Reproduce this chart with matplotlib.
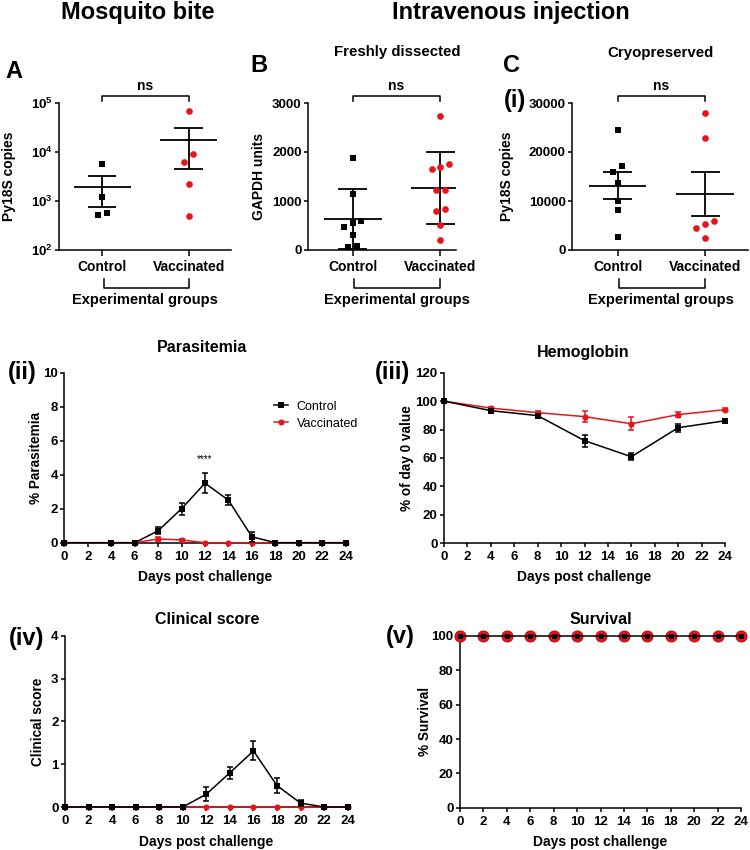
"""Mosquito bite vs intravenous injection: scatter panels and time-course panels."""

import matplotlib
matplotlib.use("Agg")
import matplotlib.pyplot as plt
import numpy as np
from matplotlib.ticker import NullLocator

# ---- data ----
groups = ["Control", "Vaccinated"]

# A: Py18S copies after mosquito bite (log scale)
a_control = [5560, 1195, 520, 571]
a_vaccinated = [69700, 9180, 6310, 2275, 489]

# B: freshly dissected, GAPDH units
b_control = [1884, 1137, 555, 479, 582, 315, 68, 75]
b_vaccinated = [2726, 1760, 1651, 1685, 1233, 1233, 801, 836, 507, 205]

# C (i): cryopreserved, Py18S copies
c_control = [24520, 17120, 15960, 13630, 10000, 8220, 2670]
c_vaccinated = [27950, 22810, 5890, 5270, 4450, 2400]

# (ii) parasitemia
para_days = [0, 4, 6, 8, 10, 12, 14, 16, 18, 20, 22, 24]
para_control = [0, 0, 0, 0.7, 2.0, 3.5, 2.5, 0.35, 0, 0, 0, 0]
para_control_err = [0, 0, 0, 0.2, 0.35, 0.6, 0.3, 0.3, 0, 0, 0, 0]
para_vaccinated = [0, 0, 0, 0.22, 0.16, 0, 0, 0, 0, 0, 0, 0]
para_vaccinated_err = [0, 0, 0, 0.1, 0.05, 0, 0, 0, 0, 0, 0, 0]

# (iii) hemoglobin, % of day 0
hb_days = [0, 4, 8, 12, 16, 20, 24]
hb_control = [100, 93.3, 89.8, 72.2, 60.9, 81.3, 86.2]
hb_control_err = [0, 1.2, 1.5, 4.3, 2.3, 2.7, 1.0]
hb_vaccinated = [100, 95.1, 91.9, 89.1, 84.1, 90.5, 94.0]
hb_vaccinated_err = [0, 1.0, 1.5, 4.0, 4.6, 2.0, 1.0]

# (iv) clinical score
clin_days = [0, 2, 4, 6, 8, 10, 12, 14, 16, 18, 20, 22, 24]
clin_control = [0, 0, 0, 0, 0, 0, 0.3, 0.8, 1.31, 0.5, 0.09, 0, 0]
clin_control_err = [0, 0, 0, 0, 0, 0, 0.17, 0.14, 0.22, 0.17, 0.07, 0, 0]
clin_vaccinated = [0, 0, 0, 0, 0, 0, 0, 0, 0, 0, 0, 0, 0]

# (v) survival
surv_days = [0, 2, 4, 6, 8, 10, 12, 14, 16, 18, 20, 22, 24]
surv_control = [100, 100, 100, 100, 100, 100, 100, 100, 100, 100, 100, 100, 100]
surv_vaccinated = [100, 100, 100, 100, 100, 100, 100, 100, 100, 100, 100, 100, 100]

RED = "#e8141c"
W, H = 750, 850

plt.rcParams.update({
    "font.family": ["Liberation Sans", "DejaVu Sans"],
    "font.weight": "bold",
    "axes.labelweight": "bold",
    "axes.linewidth": 1.1,
    "mathtext.fontset": "custom",
    "mathtext.rm": "Liberation Sans:bold",
    "mathtext.bf": "Liberation Sans:bold",
    "mathtext.it": "Liberation Sans:bold",
    "xtick.major.width": 1.1,
    "ytick.major.width": 1.1,
    "xtick.major.size": 3,
    "ytick.major.size": 3,
    "xtick.major.pad": 2.5,
    "ytick.major.pad": 1.5,
    "xtick.labelsize": 9.5,
    "ytick.labelsize": 9.5,
})

fig = plt.figure(figsize=(W / 100, H / 100), dpi=100)


def box(left, top, right, bottom):
    return [left / W, 1 - bottom / H, (right - left) / W, (bottom - top) / H]


def label(x, y, s, size, **kw):
    fig.text(x / W, 1 - y / H, s, fontsize=size, ha="center", va="center", **kw)


def clean(ax):
    ax.spines["top"].set_visible(False)
    ax.spines["right"].set_visible(False)


def swarm(ax, center, values, gap_px=8.0, step_px=8.7):
    """Spread points that overlap vertically, centred on the category."""
    vals = np.asarray(values, dtype=float)
    ypix = ax.transData.transform(np.column_stack([np.full(len(vals), center), vals]))[:, 1]
    unit = ax.transData.transform((1, 0))[0] - ax.transData.transform((0, 0))[0]
    order = np.argsort(ypix)
    offsets = np.zeros(len(vals))
    cluster = [order[0]]
    for prev, cur in zip(order[:-1], order[1:]):
        if ypix[cur] - ypix[prev] < gap_px:
            cluster.append(cur)
        else:
            for j, k in enumerate(cluster):
                offsets[k] = (j - (len(cluster) - 1) / 2) * step_px / unit
            cluster = [cur]
    for j, k in enumerate(cluster):
        offsets[k] = (j - (len(cluster) - 1) / 2) * step_px / unit
    return center + offsets


def scatter_panel(rect_px, xlim, ylim, control, vaccinated, spread, ylabel, ylabel_x,
                  log=False, yticks=None, yticklabels=None):
    left, top, right, bottom = rect_px
    ax = fig.add_axes(box(*rect_px))
    clean(ax)
    if log:
        ax.set_yscale("log")
    ax.set_xlim(*xlim)
    ax.set_ylim(*ylim)
    ax.set_yticks(yticks, yticklabels)
    ax.yaxis.set_minor_locator(NullLocator())
    ax.set_xticks([0, 1], groups, fontsize=10)
    ax.tick_params(axis="x", length=4, pad=3)

    for i, (vals, marker, color, ms) in enumerate(
            [(control, "s", "black", 4.6), (vaccinated, "o", RED, 4.8)]):
        vals = np.asarray(vals, dtype=float)
        mean = vals.mean()
        dev = vals.std(ddof=1)
        if spread == "sem":
            dev = dev / np.sqrt(len(vals))
        ax.vlines(i, mean - dev, mean + dev, color="black", lw=1.3, zorder=2)
        ax.hlines([mean - dev, mean + dev], i - 0.165, i + 0.165, color="black", lw=1.3, zorder=2)
        ax.hlines(mean, i - 0.33, i + 0.33, color="black", lw=1.3, zorder=2)
        ax.plot(swarm(ax, i, vals), vals, marker, color=color, ms=ms, mew=0,
                ls="none", zorder=3, clip_on=False)

    def fy(ypx):
        return (bottom - ypx) / (bottom - top)

    tr = ax.get_xaxis_transform()
    ax.plot([0, 0, 1, 1], [fy(100.5), fy(96), fy(96), fy(100.5)], transform=tr,
            color="black", lw=1.1, clip_on=False)
    ax.text(0.5, fy(86), "ns", transform=tr, ha="center", va="center", fontsize=10)
    ax.plot([0.02, 0.02, 1, 1], [fy(279), fy(287.5), fy(287.5), fy(279)], transform=tr,
            color="black", lw=1.1, clip_on=False)
    ax.text(0.5, fy(300), "Experimental groups", transform=tr, ha="center", va="center",
            fontsize=10.5)
    label(ylabel_x, (top + bottom) / 2, ylabel, 10, rotation=90)
    return ax


def time_panel(rect_px, ylim, yticks, ylabel, ylabel_x, title, title_xy, tag, tag_xy, xlabel_y):
    left, top, right, bottom = rect_px
    ax = fig.add_axes(box(*rect_px))
    clean(ax)
    ax.set_xlim(0, 24)
    ax.set_ylim(*ylim)
    ax.set_xticks(range(0, 25, 2))
    ax.set_yticks(yticks)
    ax.tick_params(length=3.2)
    label((left + right) / 2, xlabel_y, "Days post challenge", 10)
    label(ylabel_x, (top + bottom) / 2, ylabel, 9.8, rotation=90)
    label(title_xy[0], title_xy[1], title, 11.5)
    label(tag_xy[0], tag_xy[1], tag, 17)
    return ax


def series(ax, days, vals, errs, marker, color, ms, z):
    days = np.asarray(days, dtype=float)
    vals = np.asarray(vals, dtype=float)
    (line,) = ax.plot(days, vals, marker=marker, color=color, ms=ms, mew=0, lw=1.1,
                      zorder=z, clip_on=False)
    if errs is not None:
        errs = np.asarray(errs, dtype=float)
        m = errs > 0
        eb = ax.errorbar(days[m], vals[m], yerr=errs[m], fmt="none", ecolor=color,
                         elinewidth=1.1, capsize=2.3, capthick=1.1, zorder=z)
        for art in eb.get_children():
            art.set_clip_on(False)
    return line


# ---- headers ----
label(138, 12, "Mosquito bite", 17)
label(511, 12, "Intravenous injection", 17)
label(397, 52, "Freshly dissected", 10.8)
label(660, 53, "Cryopreserved", 10.8)
label(13.5, 72, "A", 17)
label(259, 65, "B", 17)
label(512, 66, "C", 17)
label(515, 101, "(i)", 17)

# ---- top row ----
scatter_panel((59, 103, 231, 250), (-0.5, 1.49), (1e2, 1e5), a_control, a_vaccinated,
              "sem", "Py18S copies", 9, log=True,
              yticks=[1e2, 1e3, 1e4, 1e5],
              yticklabels=[r"$10^{2}$", r"$10^{3}$", r"$10^{4}$", r"$10^{5}$"])
scatter_panel((308, 103, 456, 250), (-0.51, 1.18), (0, 3000), b_control, b_vaccinated,
              "sd", "GAPDH units", 259, yticks=[0, 1000, 2000, 3000],
              yticklabels=["0", "1000", "2000", "3000"])
scatter_panel((572, 103, 748, 250), (-0.52, 1.49), (0, 30000), c_control, c_vaccinated,
              "sem", "Py18S copies", 507, yticks=[0, 10000, 20000, 30000],
              yticklabels=["0", "10000", "20000", "30000"])

# ---- (ii) parasitemia ----
ax2 = time_panel((64.3, 372.7, 345.7, 542.7), (0, 10), [0, 2, 4, 6, 8, 10], "% Parasitemia",
                 36, "Parasitemia", (202, 348), "(ii)", (22, 373), 577)
vacc_line = series(ax2, para_days, para_vaccinated, para_vaccinated_err, "o", RED, 4.4, 3)
ctrl_line = series(ax2, para_days, para_control, para_control_err, "s", "black", 4.2, 4)
ax2.text(12, 4.9, "****", ha="center", va="center", fontsize=7, fontweight="normal")
ax2.legend(handles=[ctrl_line, vacc_line], labels=["Control", "Vaccinated"],
           loc="center left", frameon=False,
           bbox_to_anchor=(268 / W, 1 - 415 / H), bbox_transform=fig.transFigure,
           borderpad=0, handlelength=1.1, handletextpad=0.7, labelspacing=0.4,
           prop={"weight": "normal", "size": 9})

# ---- (iii) hemoglobin ----
ax3 = time_panel((444, 372.7, 725, 543.3), (0, 120), [0, 20, 40, 60, 80, 100, 120],
                 "% of day 0 value", 407.5, "Hemoglobin", (583, 353), "(iii)", (393, 373), 577)
series(ax3, hb_days, hb_vaccinated, hb_vaccinated_err, "o", RED, 4.4, 3)
series(ax3, hb_days, hb_control, hb_control_err, "s", "black", 4.2, 4)

# ---- (iv) clinical score ----
ax4 = time_panel((65, 635.7, 347.7, 807), (0, 4), [0, 1, 2, 3, 4], "Clinical score",
                 37.5, "Clinical score", (207, 620), "(iv)", (27, 638), 842)
series(ax4, clin_days, clin_vaccinated, None, "o", RED, 4.4, 3)
series(ax4, clin_days, clin_control, clin_control_err, "s", "black", 4.2, 4)

# ---- (v) survival ----
ax5 = time_panel((460, 636, 741, 807.7), (0, 100), [0, 20, 40, 60, 80, 100], "% Survival",
                 425, "Survival", (601, 620), "(v)", (400, 637), 842)
ax5.plot(surv_days, surv_vaccinated, "o", color=RED, mec="#b00000", mew=0.6, ms=8,
         zorder=3, clip_on=False)
ax5.plot(surv_days, surv_control, "s-", color="black", ms=3.6, mew=0, lw=1.1,
         zorder=4, clip_on=False)

fig.savefig("out.png", dpi=100)
